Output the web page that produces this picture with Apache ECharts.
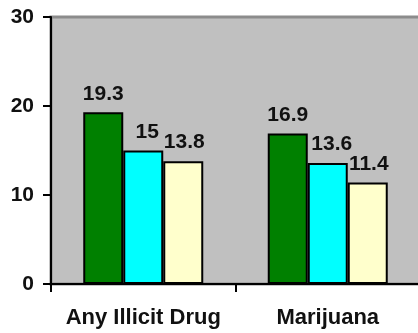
<!DOCTYPE html>
<html>
<head>
<meta charset="utf-8">
<script src="https://cdn.jsdelivr.net/npm/echarts@6/dist/echarts.min.js"></script>
<style>
  html, body { margin: 0; padding: 0; background: #ffffff; }
  #chart { width: 418px; height: 333px; }
</style>
</head>
<body>
<div id="chart"></div>
<script>
// Drug-use percentages by substance, three survey groups
var categories = ['Any Illicit Drug', 'Marijuana'];
var groupA = [19.3, 16.9];
var groupB = [15, 13.6];
var groupC = [13.8, 11.4];
var yTicks = [0, 10, 20, 30];

var seriesColors = ['#008000', '#00ffff', '#ffffcc'];
var font = 'Liberation Sans, Arial, sans-serif';

function barSeries(values, color, labelOffset) {
  return {
    type: 'bar',
    data: values,
    barWidth: 40,
    barGap: '0%',
    itemStyle: { color: color, borderColor: '#000000', borderWidth: 2 },
    label: {
      show: true,
      position: 'top',
      distance: 8,
      offset: labelOffset,
      color: '#111111',
      fontFamily: font,
      fontWeight: 'bold',
      fontSize: 21
    },
    emphasis: { disabled: true },
    animation: false
  };
}

var chart = echarts.init(document.getElementById('chart'), null, { renderer: 'canvas' });
chart.setOption({
  animation: false,
  grid: {
    left: 51, top: 17, right: -2, bottom: 49,
    outerBoundsMode: 'none',
    show: true,
    backgroundColor: '#c0c0c0',
    borderColor: '#8c8c8c',
    borderWidth: 3
  },
  xAxis: {
    type: 'category',
    data: categories,
    axisLine: { lineStyle: { color: '#000000', width: 2 } },
    axisTick: {
      show: true,
      length: 8,
      lineStyle: { color: '#000000', width: 2 }
    },
    axisLabel: {
      interval: 0,
      hideOverlap: false,
      margin: 23,
      color: '#111111',
      fontFamily: font,
      fontWeight: 'bold',
      fontSize: 22
    }
  },
  yAxis: {
    type: 'value',
    min: yTicks[0],
    max: yTicks[yTicks.length - 1],
    interval: 10,
    splitLine: { show: false },
    axisLine: { show: true, lineStyle: { color: '#000000', width: 2 } },
    axisTick: { show: true, length: 8, lineStyle: { color: '#000000', width: 2 } },
    axisLabel: {
      margin: 17,
      color: '#111111',
      fontFamily: font,
      fontWeight: 'bold',
      fontSize: 21
    }
  },
  series: [
    barSeries(groupA, seriesColors[0], [0, 0]),
    barSeries(groupB, seriesColors[1], [4, 0]),
    barSeries(groupC, seriesColors[2], [1, 0])
  ]
});
</script>
</body>
</html>
